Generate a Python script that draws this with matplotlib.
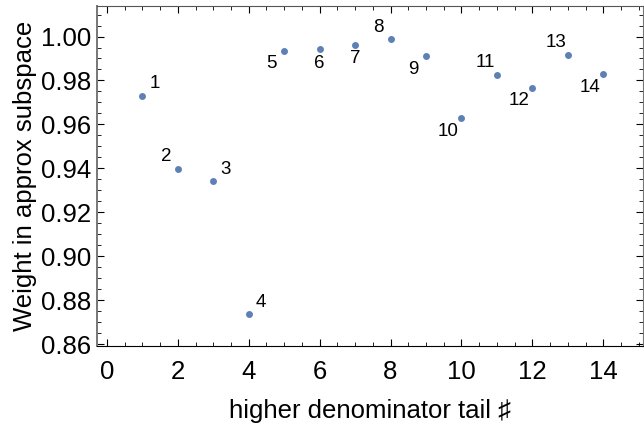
import matplotlib.pyplot as plt
from matplotlib.ticker import MultipleLocator

plt.rcParams['font.family'] = ['Liberation Sans', 'DejaVu Sans']

# data
tail = [1, 2, 3, 4, 5, 6, 7, 8, 9, 10, 11, 12, 13, 14]
weight = [0.9731, 0.9399, 0.9340, 0.8736, 0.9936, 0.9941, 0.9963,
          0.9987, 0.9911, 0.9628, 0.9826, 0.9766, 0.9916, 0.9828]
# label placement (dx, dy in pixels) around each point
label_pos = ['ur', 'ul', 'ur', 'ur', 'll', 'b', 'b', 'ul', 'll', 'll', 'ul', 'll', 'ul', 'll']
offsets = {'ur': (12, 12), 'ul': (-12, 12), 'll': (-13, -13), 'b': (0, -14)}

fig = plt.figure(figsize=(6.44, 4.29), dpi=100)
ax = fig.add_axes([0.1506, 0.1935, 0.8484, 0.7925])

ax.plot(tail, weight, 'o', color='#5E81B5', markersize=5, markeredgewidth=0)

for x, y, p in zip(tail, weight, label_pos):
    dx, dy = offsets[p]
    ax.annotate(str(x), (x, y), xytext=(dx * 0.72, dy * 0.72), textcoords='offset points',
                ha='center', va='center', fontsize=13.5)

ax.set_xlim(-0.28, 15.13)
ax.set_ylim(0.8591, 1.0139)
ax.xaxis.set_major_locator(MultipleLocator(2))
ax.xaxis.set_minor_locator(MultipleLocator(0.5))
ax.yaxis.set_major_locator(MultipleLocator(0.02))
ax.yaxis.set_minor_locator(MultipleLocator(0.005))
ax.yaxis.set_major_formatter(plt.FuncFormatter(lambda v, _: f"{v:.2f}"))

ax.tick_params(which='both', direction='in', top=True, right=True, labelsize=18.5)
ax.tick_params(axis='x', pad=10)
ax.tick_params(axis='y', pad=4)
ax.tick_params(which='major', length=5, width=0.8)
ax.tick_params(which='minor', length=3, width=0.6)

ax.spines['left'].set_color('#777777')
ax.spines['left'].set_linewidth(1.4)
ax.spines['top'].set_color('#555555')
ax.spines['bottom'].set_color('black')
ax.spines['right'].set_color('#777777')

ax.set_xlabel("higher denominator tail \u266f", fontsize=18.5, labelpad=11)
ax.set_ylabel("Weight in approx subspace", fontsize=18.5, labelpad=3)

fig.savefig("out.png", dpi=100)
